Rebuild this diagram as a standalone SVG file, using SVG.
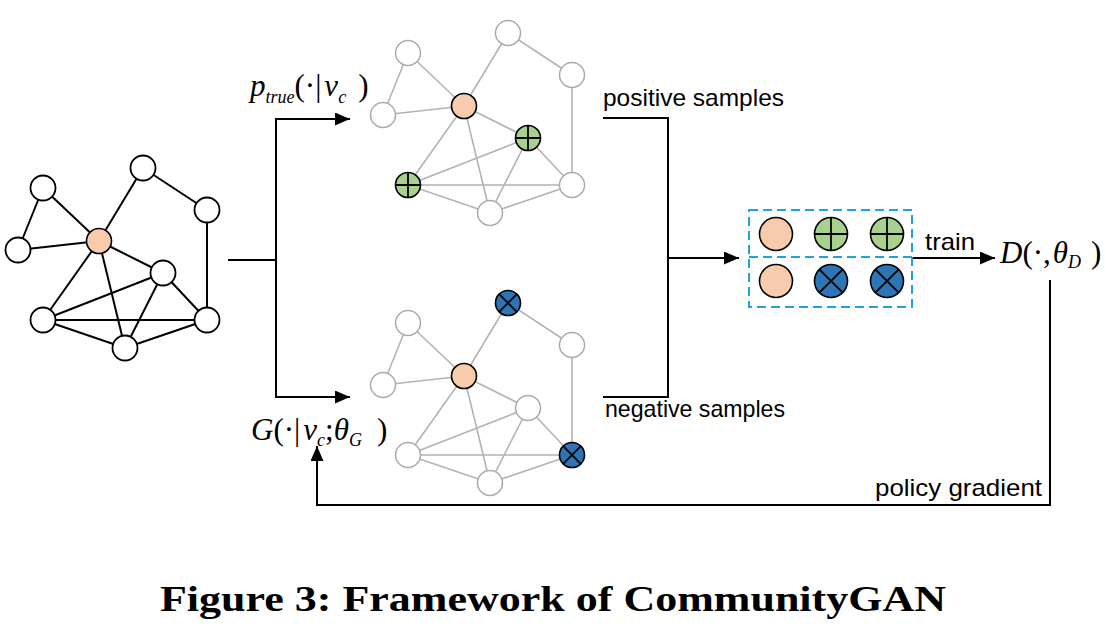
<svg xmlns="http://www.w3.org/2000/svg" xmlns:xlink="http://www.w3.org/1999/xlink" width="1106" height="636" viewBox="0 0 1106 636">
<style>
.e-black{fill:none;stroke:#000;stroke-width:2}
.e-gray{fill:none;stroke:#b3b3b3;stroke-width:1.6}
.n-black{fill:#fff;stroke:#000;stroke-width:1.8}
.n-gray{fill:#fff;stroke:#aaa;stroke-width:1.5}
.orange{fill:#F8CBAD;stroke:#000;stroke-width:1.6}
.green{fill:#A9D18E;stroke:#000;stroke-width:1.6}
.blue{fill:#2E75B6;stroke:#000;stroke-width:1.6}
.sym{fill:none;stroke:#000;stroke-width:1.8}
.conn{fill:none;stroke:#000;stroke-width:2}
.dash{fill:none;stroke:#1aa3e8;stroke-width:2;stroke-dasharray:9 5}
.lbl{font-family:"Liberation Sans",Arial,sans-serif;font-size:24px;fill:#000}
.math{font-family:"Liberation Serif","Times New Roman",serif;font-size:31px;fill:#000}
.it{font-style:italic}
.sub{font-style:italic;font-size:18px}
.cap{font-family:"Liberation Serif","Times New Roman",serif;font-size:36px;font-weight:bold;fill:#000}
</style>
<defs>
<marker id="arr" markerUnits="userSpaceOnUse" markerWidth="15" markerHeight="13" refX="15" refY="6.5" orient="auto">
<path d="M0,0 L15,6.5 L0,13 z" fill="#000"/>
</marker>
<path id="edges" d="M43 188 L18 250 M43 188 L99 241 M18 250 L99 241 M99 241 L143 168 M143 168 L207 210 M207 210 L207 320 M99 241 L163 273 M99 241 L43 320 M99 241 L125 348 M163 273 L43 320 M163 273 L125 348 M163 273 L207 320 M43 320 L207 320 M43 320 L125 348 M125 348 L207 320"/>
</defs>

<g id="graph-input">
<use xlink:href="#edges" href="#edges" class="e-black"/>
<circle class="n-black" cx="43" cy="188" r="12.5"/>
<circle class="n-black" cx="18" cy="250" r="12.5"/>
<circle class="n-black" cx="143" cy="168" r="12.5"/>
<circle class="n-black" cx="207" cy="210" r="12.5"/>
<circle class="n-black" cx="163" cy="273" r="12.5"/>
<circle class="n-black" cx="43" cy="320" r="12.5"/>
<circle class="n-black" cx="125" cy="348" r="12.5"/>
<circle class="n-black" cx="207" cy="320" r="12.5"/>
<circle class="orange" cx="99" cy="241" r="12.5"/>
</g>

<g id="graph-positive">
<use xlink:href="#edges" href="#edges" class="e-gray" transform="translate(365,-135)"/>
<circle class="n-gray" cx="408" cy="53" r="12.5"/>
<circle class="n-gray" cx="383" cy="115" r="12.5"/>
<circle class="n-gray" cx="508" cy="33" r="12.5"/>
<circle class="n-gray" cx="572" cy="75" r="12.5"/>
<circle class="n-gray" cx="490" cy="213" r="12.5"/>
<circle class="n-gray" cx="572" cy="185" r="12.5"/>
<circle class="orange" cx="464" cy="106" r="12.5"/>
<circle class="green" cx="528" cy="138" r="12.5"/>
<path class="sym" d="M515.5 138 H540.5 M528 125.5 V150.5"/>
<circle class="green" cx="408" cy="185" r="12.5"/>
<path class="sym" d="M395.5 185 H420.5 M408 172.5 V197.5"/>
</g>

<g id="graph-negative">
<use xlink:href="#edges" href="#edges" class="e-gray" transform="translate(365,135)"/>
<circle class="n-gray" cx="408" cy="323" r="12.5"/>
<circle class="n-gray" cx="383" cy="385" r="12.5"/>
<circle class="n-gray" cx="572" cy="345" r="12.5"/>
<circle class="n-gray" cx="528" cy="408" r="12.5"/>
<circle class="n-gray" cx="408" cy="455" r="12.5"/>
<circle class="n-gray" cx="490" cy="483" r="12.5"/>
<circle class="orange" cx="464" cy="376" r="12.5"/>
<circle class="blue" cx="508" cy="303" r="12.5"/>
<path class="sym" d="M499.2 294.2 L516.8 311.8 M516.8 294.2 L499.2 311.8"/>
<circle class="blue" cx="572" cy="455" r="12.5"/>
<path class="sym" d="M563.2 446.2 L580.8 463.8 M580.8 446.2 L563.2 463.8"/>
</g>

<g id="samples-box">
<rect class="dash" x="749" y="210" width="163" height="97"/>
<line class="dash" x1="749" y1="257" x2="912" y2="257"/>
<circle class="orange" cx="776" cy="234" r="16.5"/>
<circle class="green" cx="831" cy="234" r="16.5"/>
<path class="sym" d="M814.5 234 H847.5 M831 217.5 V250.5"/>
<circle class="green" cx="887" cy="234" r="16.5"/>
<path class="sym" d="M870.5 234 H903.5 M887 217.5 V250.5"/>
<circle class="orange" cx="776" cy="281" r="16.5"/>
<circle class="blue" cx="831" cy="281" r="16.5"/>
<path class="sym" d="M819.3 269.3 L842.7 292.7 M842.7 269.3 L819.3 292.7"/>
<circle class="blue" cx="887" cy="281" r="16.5"/>
<path class="sym" d="M875.3 269.3 L898.7 292.7 M898.7 269.3 L875.3 292.7"/>
</g>

<g id="connectors">
<path class="conn" d="M228 260 H276"/>
<path class="conn" d="M276 118 V398"/>
<path class="conn" d="M275 119 H350" marker-end="url(#arr)"/>
<path class="conn" d="M275 397 H350" marker-end="url(#arr)"/>
<path class="conn" d="M603 118 H668 V397 H603"/>
<path class="conn" d="M667 258 H739" marker-end="url(#arr)"/>
<path class="conn" d="M913 258 H995" marker-end="url(#arr)"/>
<path class="conn" d="M1050 280 V505 H317 V446" marker-end="url(#arr)"/>
</g>

<g id="labels">
<text class="math" x="250" y="96"><tspan class="it">p</tspan><tspan class="sub" dy="7">true</tspan><tspan dy="-7">(·|</tspan><tspan class="it" dx="3">v</tspan><tspan class="sub" dy="7">c</tspan><tspan dy="-7" dx="12">)</tspan></text>
<text class="math" x="251" y="440"><tspan class="it">G</tspan>(·|<tspan class="it" dx="3">v</tspan><tspan class="sub" dy="6">c</tspan><tspan dy="-6">;</tspan><tspan class="it">θ</tspan><tspan class="sub" dy="6">G</tspan><tspan dy="-6" dx="15">)</tspan></text>
<text class="math" x="1000" y="263"><tspan class="it">D</tspan>(·,<tspan class="it" dx="2">θ</tspan><tspan class="sub" dy="5">D</tspan><tspan dy="-5" dx="10">)</tspan></text>
<text class="lbl" x="603" y="106" textLength="181" lengthAdjust="spacingAndGlyphs">positive samples</text>
<text class="lbl" x="605" y="417" textLength="180" lengthAdjust="spacingAndGlyphs">negative samples</text>
<text class="lbl" x="925" y="250" textLength="50" lengthAdjust="spacingAndGlyphs">train</text>
<text class="lbl" x="875" y="496" textLength="167" lengthAdjust="spacingAndGlyphs">policy gradient</text>
<text class="cap" x="160" y="611" textLength="786" lengthAdjust="spacingAndGlyphs">Figure 3: Framework of CommunityGAN</text>
</g>
</svg>
